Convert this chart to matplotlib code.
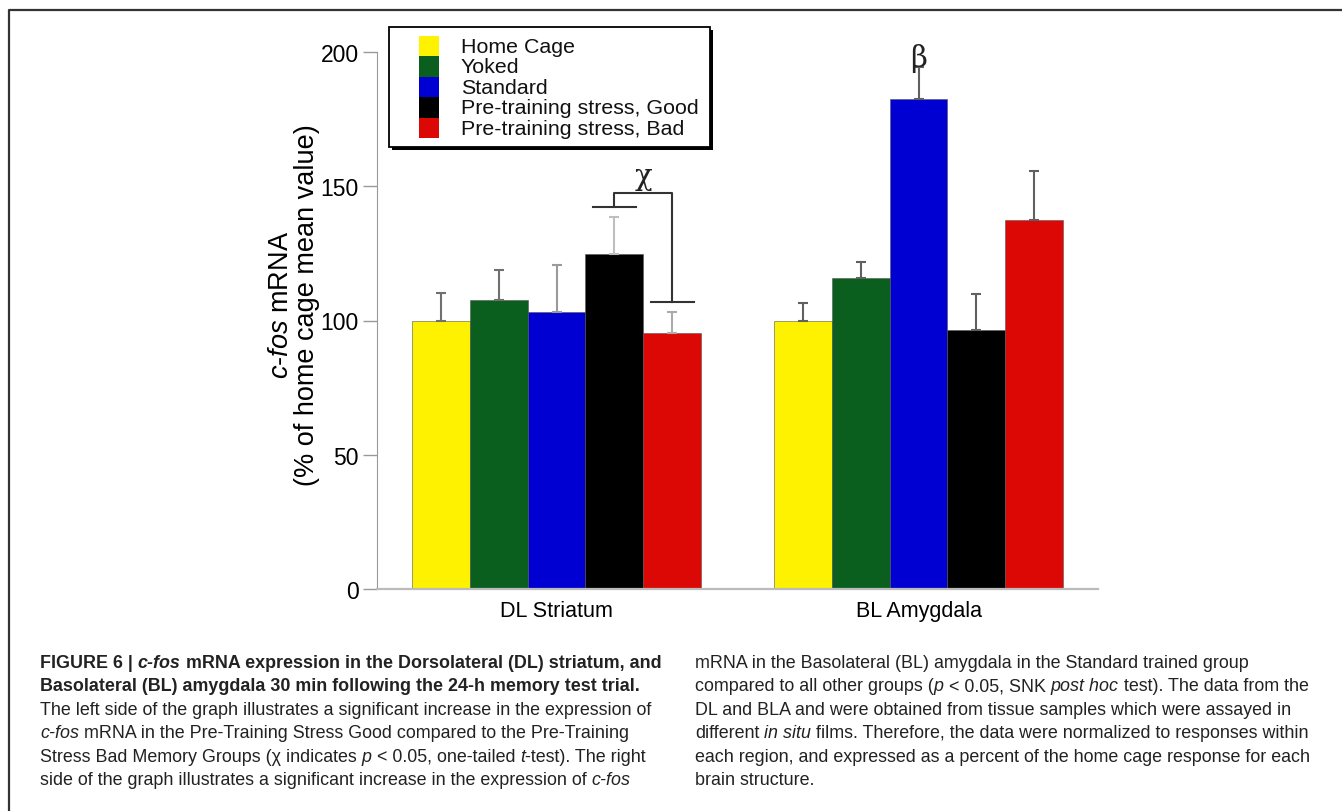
import matplotlib
matplotlib.use('Agg')
import matplotlib.pyplot as plt
import numpy as np
from matplotlib.patches import Rectangle
from matplotlib.lines import Line2D
from matplotlib import font_manager

plt.rcParams['font.family'] = ['Liberation Sans', 'DejaVu Sans']
plt.rcParams['mathtext.fontset'] = 'custom'
plt.rcParams['mathtext.rm'] = 'Liberation Sans'
plt.rcParams['mathtext.it'] = 'Liberation Sans:italic'

### Donnees
groupes = ['Home Cage', 'Yoked', 'Standard', 'Pre-training stress, Good', 'Pre-training stress, Bad']
regions = ['DL Striatum', 'BL Amygdala']

striatum = np.array([100, 107.5, 103, 124.6, 95.2])
striatum_err = np.array([10.4, 11.2, 17.5, 13.8, 7.8])
amygdala = np.array([100, 115.7, 182.5, 96.6, 137.3])
amygdala_err = np.array([6.7, 6.0, 11.9, 13.4, 18.3])

couleurs = ['#FFF200', '#0A5F1E', '#0000D2', '#000000', '#DC0806']
err_col_str = ['#707070', '#707070', '#9A9A9A', '#BEBEBE', '#ABABAB']
err_col_amy = ['#606060'] * 5

W, H = 1342, 812
fig = plt.figure(figsize=(W/100, H/100), dpi=100)

def fx(px):
    return px / W

def fy(py):
    return 1 - py / H

ax = fig.add_axes([fx(377), fy(590), fx(1098) - fx(377), fy(53) - fy(590)])

x1 = np.arange(5)
x2 = np.arange(5) + 6.263

ax.bar(x1, striatum, width=1, color=couleurs, edgecolor='#555555', linewidth=0.4)
ax.bar(x2, amygdala, width=1, color=couleurs, edgecolor='#555555', linewidth=0.4)
for i in range(5):
    ax.errorbar(x1[i], striatum[i], yerr=[[0], [striatum_err[i]]], fmt='none',
                ecolor=err_col_str[i], capsize=3.6, elinewidth=1.5, capthick=1.5)
    ax.errorbar(x2[i], amygdala[i], yerr=[[0], [amygdala_err[i]]], fmt='none',
                ecolor=err_col_amy[i], capsize=3.6, elinewidth=1.5, capthick=1.5)

# crochet chi
top_g = striatum[3] + striatum_err[3] + 4
top_b = striatum[4] + striatum_err[4] + 4
top = top_g + 5.2
hw = 0.37
bc = '#333333'
ax.plot([x1[3] - hw, x1[3] + hw], [top_g, top_g], color=bc, lw=1.5)
ax.plot([x1[4] - hw, x1[4] + hw], [top_b, top_b], color=bc, lw=1.5)
ax.plot([x1[3], x1[3], x1[4], x1[4]], [top_g, top, top, top_b], color=bc, lw=1.5)
ax.text((x1[3] + x1[4]) / 2, top + 1.0, 'χ', ha='center', va='bottom', fontsize=21,
        family='DejaVu Serif', color='#222222')
ax.text(x2[2], amygdala[2] + amygdala_err[2] - 2.0, 'β', ha='center', va='bottom', fontsize=21,
        family='DejaVu Serif', color='#222222')

ax.set_xlim(-1.107, 11.367)
ax.set_ylim(0, 200)
ax.set_yticks([0, 50, 100, 150, 200])
ax.set_xticks([x1.mean(), x2.mean()])
ax.set_xticklabels(regions, fontsize=15.5)
ax.tick_params(axis='x', length=0, pad=8)
ax.tick_params(axis='y', direction='out', length=10, width=1, color='#999999', labelsize=16.5, pad=3)
for s in ['top', 'right']:
    ax.spines[s].set_visible(False)
ax.spines['left'].set_color('#999999')
ax.spines['bottom'].set_color('#BBBBBB')
ax.spines['bottom'].set_linewidth(1.6)

fig.text(fx(281), fy(305), r'$\it{c}$-$\it{fos}$ mRNA', rotation=90, ha='center', va='center', fontsize=19.5)
fig.text(fx(307), fy(305), '(% of home cage mean value)', rotation=90, ha='center', va='center', fontsize=19.5)

# legende
fig.add_artist(Rectangle((fx(392), fy(151)), fx(713) - fx(392), fy(31) - fy(151),
                         transform=fig.transFigure, facecolor='black', edgecolor='none'))
fig.add_artist(Rectangle((fx(389), fy(148)), fx(710) - fx(389), fy(28) - fy(148),
                         transform=fig.transFigure, facecolor='white', edgecolor='black', lw=1.3))
for i, lab in enumerate(groupes):
    y0 = 37 + i * 20.4
    fig.add_artist(Rectangle((fx(419), fy(y0 + 20.4)), fx(20), fy(0) - fy(20.4),
                             transform=fig.transFigure, facecolor=couleurs[i], edgecolor='none'))
    fig.text(fx(461), fy(y0 + 10.5), lab, ha='left', va='center', fontsize=15.4, color='#111111')

# cadre
fig.add_artist(Line2D([fx(9), fx(9), fx(W)], [0, fy(11), fy(11)], transform=fig.transFigure,
                      color='#333333', lw=1.6))

### Legende de la figure
try:
    font_manager.findfont(font_manager.FontProperties(family='Liberation Sans Narrow'),
                          fallback_to_default=False)
    capfont, capsize = 'Liberation Sans Narrow', 12.6
except Exception:
    capfont, capsize = 'Liberation Sans', 12.9

renderer = fig.canvas.get_renderer()

def largeur(txt, style, weight):
    t = fig.text(0, 0, txt, fontsize=capsize, family=capfont, fontstyle=style, fontweight=weight)
    w = t.get_window_extent(renderer).width
    t.remove()
    return w

def ligne(x, y, segs):
    for txt, st, wt in segs:
        sw = largeur('x x', st, wt) - largeur('xx', st, wt)
        lead = len(txt) - len(txt.lstrip(' '))
        trail = len(txt) - len(txt.rstrip(' '))
        core = txt.strip(' ')
        x += lead * sw
        if core:
            t = fig.text(fx(x), fy(y), core, fontsize=capsize, family=capfont, fontstyle=st,
                         fontweight=wt, va='baseline', ha='left', color='#222222')
            x += t.get_window_extent(renderer).width
        x += trail * sw

N, I, B = 'normal', 'italic', 'bold'
gauche = [
    [('FIGURE 6 | ', N, B), ('c-fos', I, B), (' mRNA expression in the Dorsolateral (DL) striatum, and', N, B)],
    [('Basolateral (BL) amygdala 30 min following the 24-h memory test trial.', N, B)],
    [('The left side of the graph illustrates a significant increase in the expression of', N, N)],
    [('c-fos', I, N), (' mRNA in the Pre-Training Stress Good compared to the Pre-Training', N, N)],
    [('Stress Bad Memory Groups (χ indicates ', N, N), ('p', I, N), (' < 0.05, one-tailed ', N, N),
     ('t', I, N), ('-test). The right', N, N)],
    [('side of the graph illustrates a significant increase in the expression of ', N, N), ('c-fos', I, N)],
]
droite = [
    [('mRNA in the Basolateral (BL) amygdala in the Standard trained group', N, N)],
    [('compared to all other groups (', N, N), ('p', I, N), (' < 0.05, SNK ', N, N), ('post hoc', I, N),
     (' test). The data from the', N, N)],
    [('DL and BLA and were obtained from tissue samples which were assayed in', N, N)],
    [('different ', N, N), ('in situ', I, N), (' films. Therefore, the data were normalized to responses within', N, N)],
    [('each region, and expressed as a percent of the home cage response for each', N, N)],
    [('brain structure.', N, N)],
]
for k, segs in enumerate(gauche):
    ligne(40, 668 + k * 23.4, segs)
for k, segs in enumerate(droite):
    ligne(695, 668 + k * 23.4, segs)

fig.savefig('out.png', dpi=100)
